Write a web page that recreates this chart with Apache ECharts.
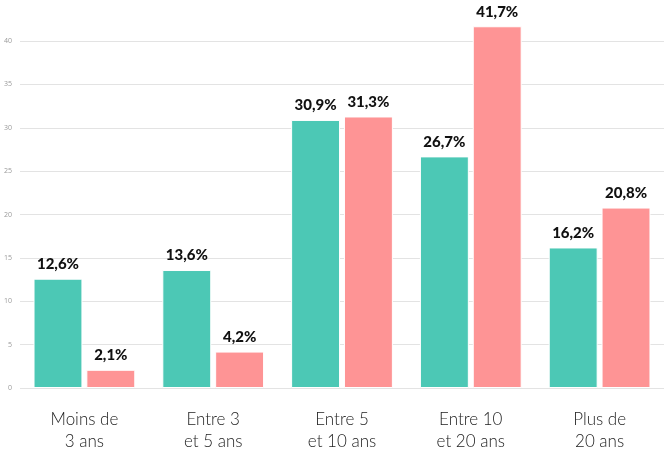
<!DOCTYPE html>
<html><head><meta charset="utf-8">
<script src="https://cdn.jsdelivr.net/npm/echarts@6/dist/echarts.min.js"></script>
<style>html,body{margin:0;padding:0;background:#fff}#c{width:664px;height:453px}</style>
</head><body><div id="c"></div>
<script>
const categories = ["Moins de\n3 ans", "Entre 3\net 5 ans", "Entre 5\net 10 ans", "Entre 10\net 20 ans", "Plus de\n20 ans"];
const seriesA = [12.6, 13.6, 30.9, 26.7, 16.2];
const seriesB = [2.1, 4.2, 31.3, 41.7, 20.8];
const yTicks = [0, 5, 10, 15, 20, 25, 30, 35, 40];

const chart = echarts.init(document.getElementById('c'), null, {renderer: 'canvas'});
const lbl = {
  show: true, position: 'top', distance: 7,
  fontFamily: 'Lato', fontWeight: 900, fontSize: 15, color: '#111',
  formatter: p => p.value.toFixed(1).replace('.', ',') + '%'
};
chart.setOption({
  animation: false,
  grid: {left: 20, right: 0, top: 41, bottom: 65},
  xAxis: {
    type: 'category', data: categories,
    axisLine: {show: false}, axisTick: {show: false},
    axisLabel: {fontFamily: 'Lato', fontWeight: 300, fontSize: 17, color: '#222', lineHeight: 22, margin: 21}
  },
  yAxis: {
    type: 'value', min: yTicks[0], max: yTicks[yTicks.length - 1], interval: 5,
    axisLabel: {fontSize: 7, color: '#999', margin: 8, fontFamily: 'Open Sans'},
    splitLine: {lineStyle: {color: '#e3e3e3', width: 1}},
    axisLine: {show: false}, axisTick: {show: false}
  },
  series: [
    {type: 'bar', data: seriesA, barGap: '8%', barCategoryGap: '21%', clip: false,
     itemStyle: {color: '#4cc8b5', borderColor: '#ffffff', borderWidth: 1}, label: lbl},
    {type: 'bar', data: seriesB, clip: false,
     itemStyle: {color: '#fe9495', borderColor: '#ffffff', borderWidth: 1}, label: lbl}
  ]
});
</script></body></html>
